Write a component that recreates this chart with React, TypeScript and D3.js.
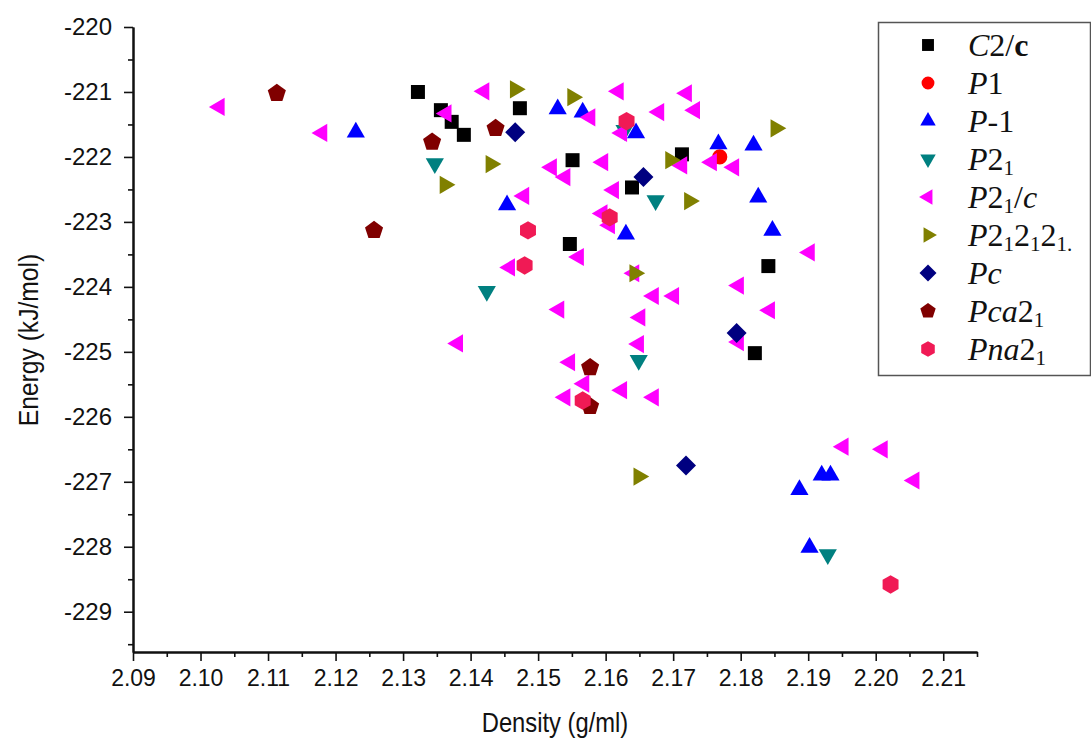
import React, { useEffect, useRef } from "react";
import * as d3 from "d3";

// [density, energy] per space group
const c2c = [[2.1322, -221.0], [2.1356, -221.28], [2.1372, -221.46], [2.139, -221.66], [2.1473, -221.25], [2.1551, -222.05], [2.1639, -222.47], [2.1713, -221.96], [2.1547, -223.34], [2.1841, -223.68], [2.1821, -225.02]];
const p1 = [[2.1769, -222.0]];
const pBar1 = [[2.123, -221.59], [2.1529, -221.23], [2.1566, -221.28], [2.1645, -221.6], [2.1767, -221.77], [2.1819, -221.79], [2.1454, -222.71], [2.163, -223.16], [2.1826, -222.59], [2.1847, -223.1], [2.1887, -227.09], [2.192, -226.87], [2.1933, -226.87], [2.1902, -227.98]];
const p21 = [[2.1347, -222.13], [2.1628, -221.62], [2.1674, -222.7], [2.1424, -224.1], [2.1649, -225.16], [2.1929, -228.15]];
const p21c = [[2.1025, -221.23], [2.1177, -221.63], [2.1361, -221.33], [2.1417, -220.99], [2.1574, -221.39], [2.1616, -220.99], [2.1676, -221.31], [2.1621, -221.63], [2.1517, -222.16], [2.1537, -222.31], [2.1593, -222.08], [2.1609, -222.51], [2.1476, -222.6], [2.1592, -222.87], [2.1603, -223.05], [2.1717, -221.02], [2.1729, -221.28], [2.171, -222.13], [2.1754, -222.08], [2.1787, -222.16], [2.1899, -223.47], [2.1557, -223.54], [2.1455, -223.7], [2.1639, -223.79], [2.1528, -224.35], [2.1668, -224.14], [2.1698, -224.14], [2.1648, -224.47], [2.1378, -224.87], [2.1646, -224.88], [2.1544, -225.16], [2.1565, -225.49], [2.1537, -225.7], [2.1621, -225.59], [2.1668, -225.7], [2.1794, -223.98], [2.184, -224.36], [2.1794, -224.85], [2.1949, -226.46], [2.2007, -226.5], [2.2054, -226.98]];
const p212121 = [[2.1469, -220.96], [2.1554, -221.08], [2.1433, -222.11], [2.1365, -222.43], [2.1699, -222.05], [2.1727, -222.68], [2.1855, -221.56], [2.1646, -223.79], [2.1652, -226.92]];
const pc = [[2.1466, -221.62], [2.1656, -222.31], [2.1794, -224.71], [2.1719, -226.75]];
const pca21 = [[2.1113, -221.02], [2.1343, -221.77], [2.1437, -221.56], [2.1257, -223.13], [2.1577, -225.24], [2.1577, -225.84]];
const pna21 = [[2.1631, -221.45], [2.1485, -223.13], [2.148, -223.67], [2.1606, -222.93], [2.1566, -225.75], [2.2022, -228.58]];

const xTicks = [2.09, 2.1, 2.11, 2.12, 2.13, 2.14, 2.15, 2.16, 2.17, 2.18, 2.19, 2.2, 2.21];
const yTicks = [-229, -228, -227, -226, -225, -224, -223, -222, -221, -220];

// polygon marker, rot in degrees (-90 = a vertex pointing up)
function poly(n, r, rot) {
  const pts = d3.range(n).map(i => {
    const a = ((rot + (360 / n) * i) * Math.PI) / 180;
    return [r * Math.cos(a), r * Math.sin(a)];
  });
  return "M" + pts.map(p => p[0].toFixed(2) + "," + p[1].toFixed(2)).join("L") + "Z";
}
const circle = d3.symbol(d3.symbolCircle, 180)();

const series = [
  { data: c2c, color: "#000000", shape: poly(4, 9.9, 45), label: [{ t: "C", i: true }, { t: "2/" }, { t: "c", b: true }] },
  { data: p1, color: "#ff0000", shape: circle, label: [{ t: "P", i: true }, { t: "1" }] },
  { data: pBar1, color: "#0000ff", shape: poly(3, 10.5, -90), dy: 2, label: [{ t: "P", i: true }, { t: "-1" }] },
  { data: p21, color: "#008080", shape: poly(3, 10.5, 90), dy: -2, label: [{ t: "P", i: true }, { t: "2" }, { t: "1", s: true }] },
  { data: p21c, color: "#ff00ff", shape: poly(3, 10.5, 180), dx: 2, label: [{ t: "P", i: true }, { t: "2" }, { t: "1", s: true }, { t: "/" }, { t: "c", i: true }] },
  { data: p212121, color: "#808000", shape: poly(3, 10.5, 0), dx: -2, label: [{ t: "P", i: true }, { t: "2" }, { t: "1", s: true }, { t: "2" }, { t: "1", s: true }, { t: "2" }, { t: "1", s: true }, { t: ".", s: true }] },
  { data: pc, color: "#000080", shape: poly(4, 10, 0), label: [{ t: "Pc", i: true }] },
  { data: pca21, color: "#800000", shape: poly(5, 9.5, -90), label: [{ t: "Pca", i: true }, { t: "2" }, { t: "1", s: true }] },
  { data: pna21, color: "#f01a55", shape: poly(6, 9.2, -90), label: [{ t: "Pna", i: true }, { t: "2" }, { t: "1", s: true }] }
];

export default function App() {
  const ref = useRef(null);

  useEffect(() => {
    const svg = d3.select(ref.current);
    svg.selectAll("*").remove();

    const x = d3.scaleLinear().domain([2.09, 2.215]).range([133, 977]);
    const y = d3.scaleLinear().domain([-229.62, -220]).range([652, 27]);
    const sans = "'Liberation Sans', Arial, sans-serif";
    const serif = "'Liberation Serif', 'Times New Roman', serif";

    // minor ticks first
    const xMinor = d3.range(0, 13).map(i => 2.095 + i * 0.01);
    const yMinor = d3.range(0, 10).map(i => -229.5 + i);
    svg.append("g").attr("transform", "translate(0,652)")
      .call(d3.axisBottom(x).tickValues(xMinor).tickSize(5).tickSizeOuter(0).tickFormat(() => ""));
    svg.append("g").attr("transform", "translate(133,0)")
      .call(d3.axisLeft(y).tickValues(yMinor).tickSize(5).tickSizeOuter(0).tickFormat(() => ""));

    const xAxis = svg.append("g").attr("transform", "translate(0,652)")
      .call(d3.axisBottom(x).tickValues(xTicks).tickSize(9).tickSizeOuter(0).tickPadding(9).tickFormat(d3.format(".2f")));
    const yAxis = svg.append("g").attr("transform", "translate(133,0)")
      .call(d3.axisLeft(y).tickValues(yTicks).tickSize(9).tickSizeOuter(0).tickPadding(12).tickFormat(d => String(d)));

    svg.selectAll(".domain").attr("stroke", "#111").attr("stroke-width", 2);
    svg.selectAll(".tick line").attr("stroke", "#111").attr("stroke-width", 1.6);
    xAxis.selectAll("text").attr("font-family", sans).attr("font-size", 23).attr("fill", "#111");
    yAxis.selectAll("text").attr("font-family", sans).attr("font-size", 24).attr("fill", "#111");
    xAxis.attr("font-size", null);
    yAxis.attr("font-size", null);

    svg.append("text").attr("transform", "translate(555,732) scale(0.88,1)").attr("text-anchor", "middle")
      .attr("font-family", sans).attr("font-size", 27).attr("fill", "#111").text("Density (g/ml)");
    svg.append("text").attr("transform", "translate(38,340) rotate(-90) scale(0.88,1)").attr("text-anchor", "middle")
      .attr("font-family", sans).attr("font-size", 28).attr("fill", "#111").text("Energy (kJ/mol)");

    // points
    series.forEach(s => {
      svg.append("g").selectAll("path").data(s.data).join("path")
        .attr("d", s.shape)
        .attr("transform", d => `translate(${x(d[0]) + (s.dx || 0)},${y(d[1]) + (s.dy || 0)})`)
        .attr("fill", s.color);
    });

    // legend
    const lg = svg.append("g");
    lg.append("rect").attr("x", 878.5).attr("y", 22.5).attr("width", 212).attr("height", 353)
      .attr("fill", "white").attr("stroke", "#555").attr("stroke-width", 1.5);
    series.forEach((s, i) => {
      const ly = 45 + i * 38;
      lg.append("path").attr("d", s.shape).attr("transform", `translate(928,${ly}) scale(0.85)`).attr("fill", s.color);
      const t = lg.append("text").attr("x", 968).attr("y", ly + 11)
        .attr("font-family", serif).attr("font-size", 32).attr("fill", "#111");
      let shifted = false;
      s.label.forEach(p => {
        const ts = t.append("tspan").text(p.t);
        if (p.i) ts.attr("font-style", "italic");
        if (p.b) ts.attr("font-weight", "bold");
        if (p.s && !shifted) { ts.attr("dy", 5); shifted = true; }
        if (!p.s && shifted) { ts.attr("dy", -5); shifted = false; }
        if (p.s) ts.attr("font-size", 21);
      });
    });
  }, []);

  return (
    <svg ref={ref} width={1091} height={742}
      style={{ position: "absolute", left: 0, top: 0, background: "white" }} />
  );
}
